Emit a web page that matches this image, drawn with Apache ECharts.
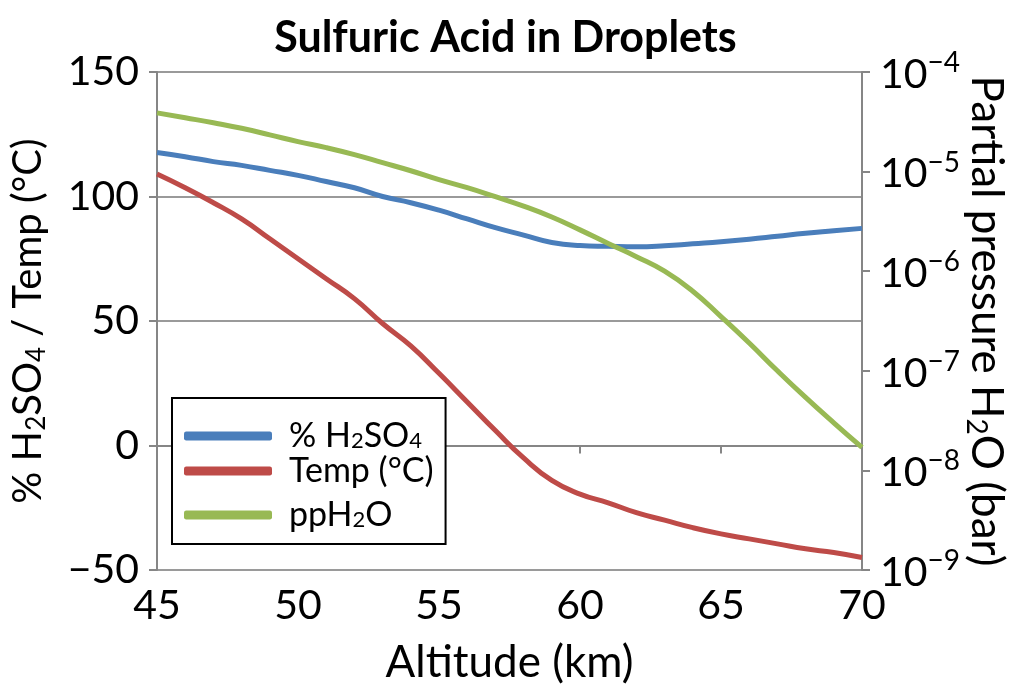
<!DOCTYPE html>
<html>
<head>
<meta charset="utf-8">
<script src="https://cdn.jsdelivr.net/npm/echarts@6/dist/echarts.min.js"></script>
<style>
  html, body { margin: 0; padding: 0; background: #fff; }
  #main { width: 1011px; height: 685px; }
</style>
</head>
<body>
<div id="main"></div>
<script>
var altitude = [45, 46, 47, 48, 49, 50, 51, 52, 53, 54, 55, 56, 57, 58, 59, 60, 61, 62, 63, 64, 65, 66, 67, 68, 69, 70];
var h2so4 = [117.7, 116, 114, 112.5, 110.5, 108.5, 106, 103.5, 100, 97.5, 94.5, 91, 87.5, 84.5, 81.5, 80.3, 80, 79.8, 80.2, 81, 81.8, 82.8, 84, 85.2, 86.2, 87.2];
var temp = [109, 103.5, 97.5, 91, 83, 75, 67, 59, 49, 40, 29, 17.5, 6, -5, -14, -19.5, -23, -27, -30, -33, -35.5, -37.5, -39.5, -41.5, -43, -45];
var ppH2O = [3.89e-5, 3.47e-5, 3.09e-5, 2.72e-5, 2.34e-5, 2.0e-5, 1.74e-5, 1.48e-5, 1.23e-5, 1.02e-5, 8.3e-6, 6.9e-6, 5.6e-6, 4.5e-6, 3.5e-6, 2.6e-6, 1.9e-6, 1.4e-6, 1.0e-6, 6.3e-7, 3.5e-7, 1.9e-7, 1.0e-7, 5.4e-8, 3.0e-8, 1.7e-8];

var FONT = 'Lato';

function pairs(ys) {
    return altitude.map(function (x, i) { return [x, ys[i]]; });
}

var myChart = echarts.init(document.getElementById('main'));
var option = {
    backgroundColor: '#fff',
    animation: false,
    title: {
        text: 'Sulfuric Acid in Droplets',
        left: 'center',
        top: 12,
        textStyle: { fontFamily: FONT, fontSize: 43, fontWeight: 'bold', color: '#000' }
    },
    grid: { left: 157, right: 149, top: 72, bottom: 115, outerBoundsMode: 'none', containLabel: false },
    legend: {
        orient: 'vertical',
        left: 172,
        top: 398,
        padding: [12, 12, 12, 12],
        borderColor: '#000',
        borderWidth: 2,
        backgroundColor: '#fff',
        itemWidth: 88,
        itemHeight: 9,
        itemGap: 1,
        icon: 'roundRect',
        data: ['% H2SO4', 'Temp (°C)', 'ppH2O'],
        formatter: function (name) {
            if (name === '% H2SO4') return '{n|% H}{s|2}{n|SO}{s|4}';
            if (name === 'ppH2O') return '{n|ppH}{s|2}{n|O}';
            return '{n|' + name + '}';
        },
        textStyle: {
            fontFamily: FONT,
            fontSize: 34,
            color: '#000',
            padding: [0, 0, 0, 12],
            rich: {
                n: { fontFamily: FONT, fontSize: 34, color: '#000', lineHeight: 32 },
                s: { fontFamily: FONT, fontSize: 22, color: '#000', lineHeight: 32, verticalAlign: 'bottom', padding: [20, 0, 0, 0] }
            }
        }
    },
    xAxis: {
        type: 'value',
        min: 45,
        max: 70,
        interval: 5,
        name: 'Altitude (km)',
        nameLocation: 'middle',
        nameGap: 71,
        nameMoveOverlap: false,
        nameTextStyle: { fontFamily: FONT, fontSize: 44, color: '#000' },
        axisLine: { show: true, lineStyle: { color: '#868686', width: 2 } },
        axisTick: { show: true, length: 8, lineStyle: { color: '#868686', width: 2 } },
        axisLabel: { fontFamily: FONT, fontSize: 41, color: '#000', margin: 15 },
        splitLine: { show: false }
    },
    yAxis: [{
        type: 'value',
        min: -50,
        max: 150,
        interval: 50,
        position: 'left',
        name: '{n|% H}{s|2}{n|SO}{s|4}{n| / Temp (°C)}',
        nameLocation: 'middle',
        nameRotate: 90,
        nameGap: 107,
        nameMoveOverlap: false,
        nameTextStyle: {
            fontFamily: FONT,
            fontSize: 40,
            color: '#000',
            rich: {
                n: { fontFamily: FONT, fontSize: 40, color: '#000', lineHeight: 44 },
                s: { fontFamily: FONT, fontSize: 26, color: '#000', lineHeight: 44, verticalAlign: 'bottom', padding: [20, 0, 0, 0] }
            }
        },
        axisLine: { show: true, lineStyle: { color: '#868686', width: 2 } },
        axisTick: { show: true, length: 8, lineStyle: { color: '#868686', width: 2 } },
        axisLabel: {
            fontFamily: FONT,
            fontSize: 41,
            color: '#000',
            margin: 18,
            formatter: function (v) { return String(v).replace('-', '\u2212'); }
        },
        splitLine: { show: true, lineStyle: { color: '#9a9a9a', width: 2 } }
    }, {
        type: 'log',
        logBase: 10,
        min: 1e-9,
        max: 1e-4,
        position: 'right',
        name: '{n|Partial pressure H}{s|2}{n|O (bar)}',
        nameLocation: 'middle',
        nameRotate: -90,
        nameGap: 100,
        nameMoveOverlap: false,
        nameTextStyle: {
            fontFamily: FONT,
            fontSize: 44,
            color: '#000',
            rich: {
                n: { fontFamily: FONT, fontSize: 44, color: '#000', lineHeight: 48 },
                s: { fontFamily: FONT, fontSize: 28, color: '#000', lineHeight: 48, verticalAlign: 'bottom', padding: [22, 0, 0, 0] }
            }
        },
        axisLine: { show: true, lineStyle: { color: '#868686', width: 2 } },
        axisTick: { show: true, length: 8, lineStyle: { color: '#868686', width: 2 } },
        axisLabel: {
            fontFamily: FONT,
            fontSize: 41,
            color: '#000',
            margin: 18,
            formatter: function (v) {
                var e = Math.round(Math.log(v) / Math.LN10);
                return '{b|10}{e|\u2212' + Math.abs(e) + '}';
            },
            rich: {
                b: { fontFamily: FONT, fontSize: 41, color: '#000', lineHeight: 46, verticalAlign: 'bottom' },
                e: { fontFamily: FONT, fontSize: 28, color: '#000', lineHeight: 46, verticalAlign: 'top', padding: [0, 0, 16, 0] }
            }
        },
        splitLine: { show: false }
    }],
    series: [{
        name: '% H2SO4',
        type: 'line',
        smooth: true,
        showSymbol: false,
        yAxisIndex: 0,
        data: pairs(h2so4),
        lineStyle: { color: '#4a7ebb', width: 5 },
        itemStyle: { color: '#4a7ebb' }
    }, {
        name: 'Temp (°C)',
        type: 'line',
        smooth: true,
        showSymbol: false,
        yAxisIndex: 0,
        data: pairs(temp),
        lineStyle: { color: '#be4b48', width: 5 },
        itemStyle: { color: '#be4b48' }
    }, {
        name: 'ppH2O',
        type: 'line',
        smooth: true,
        showSymbol: false,
        yAxisIndex: 1,
        data: pairs(ppH2O),
        lineStyle: { color: '#98b954', width: 5 },
        itemStyle: { color: '#98b954' }
    }]
};

myChart.setOption(option);
</script>
</body>
</html>
